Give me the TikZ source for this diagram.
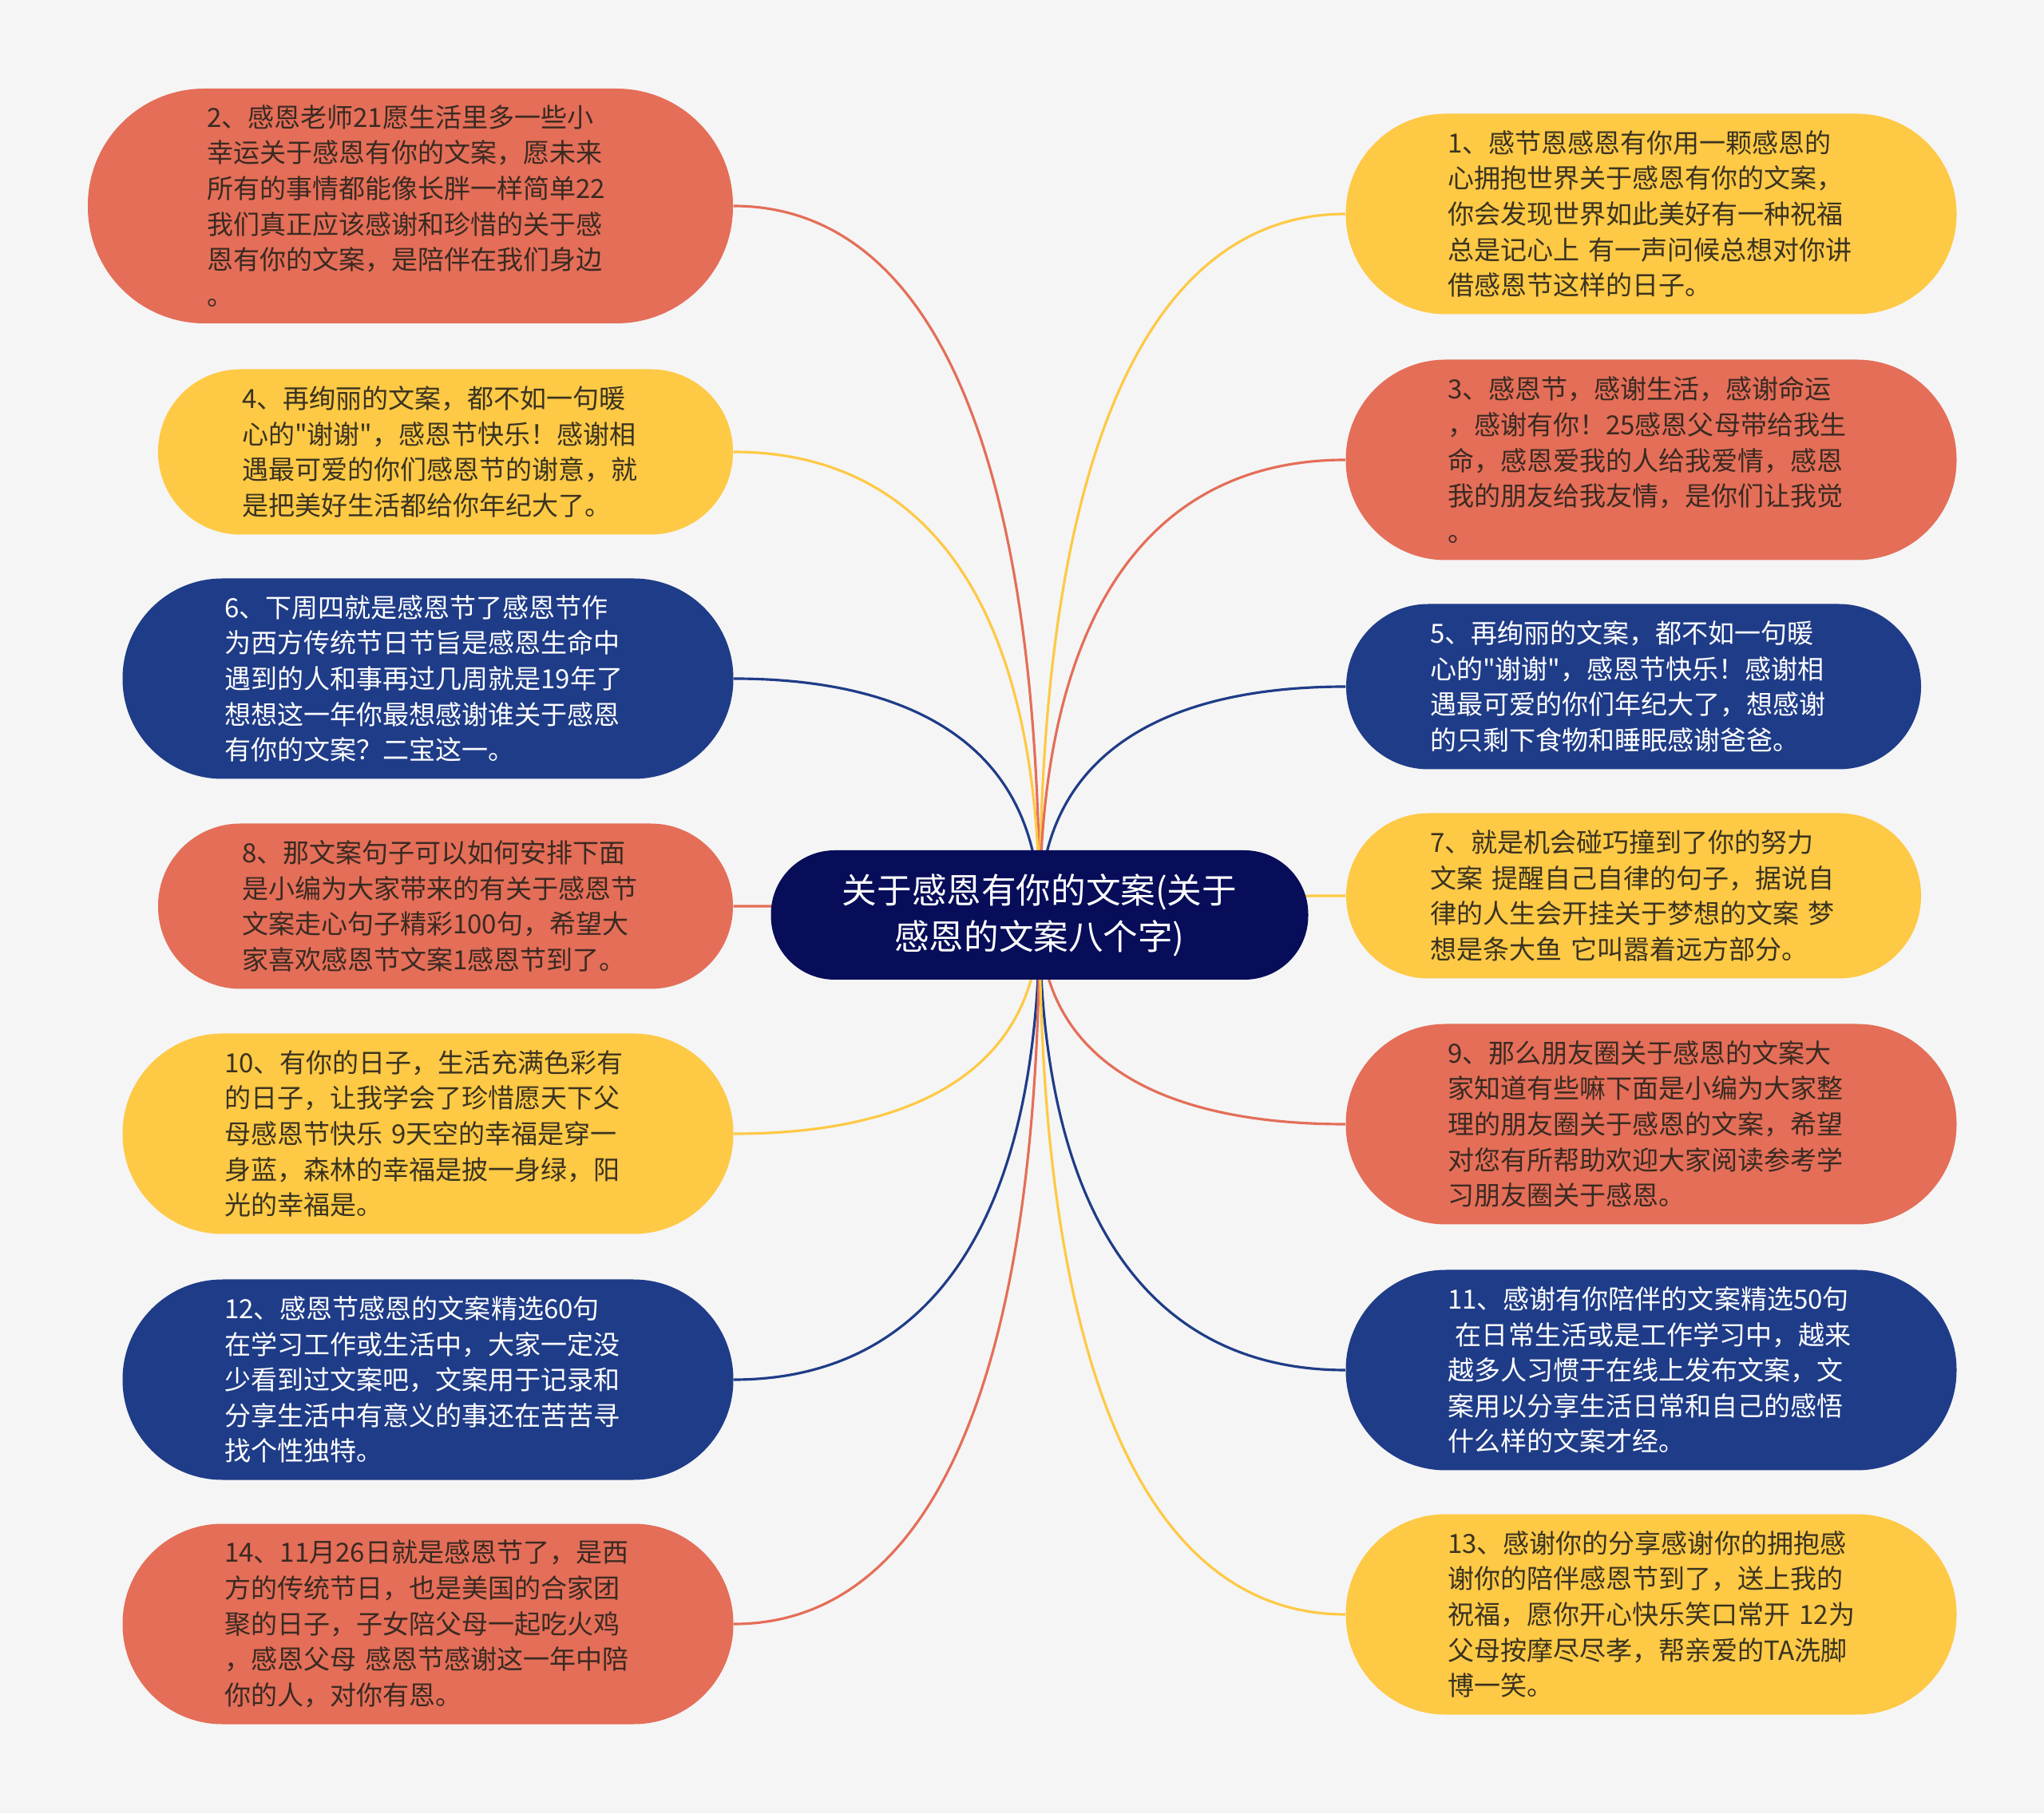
\documentclass[tikz,border=0pt]{standalone}
\usepackage{fontspec}
\usepackage{tikz}
\usetikzlibrary{calc, backgrounds}
\newfontfamily\cjk{Noto Sans CJK SC}
\newcommand\leaffont{\cjk\fontsize{9.4pt}{12.7pt}\selectfont}
\newcommand\hubfont{\cjk\fontsize{12.4pt}{16.5pt}\selectfont}
\definecolor{paper}{HTML}{F5F5F5}
\definecolor{coralfill}{HTML}{E46E58}
\definecolor{goldfill}{HTML}{FEC945}
\definecolor{bluefill}{HTML}{1F3C88}
\definecolor{navyfill}{HTML}{070D59}
\definecolor{coraltext}{HTML}{3A2A22}
\definecolor{goldtext}{HTML}{3A3320}

\begin{document}
\begin{tikzpicture}[
    leaf/.style={inner sep=0pt, text width=5.1cm, align=left, font=\leaffont},
    sixline/.style={leaf, minimum width=8.08cm, minimum height=2.94cm, rounded corners=1.46cm},
    fiveline/.style={leaf, minimum width=7.65cm, minimum height=2.51cm, rounded corners=1.25cm},
    fourline/.style={leaf, minimum width=7.2cm, minimum height=2.07cm, rounded corners=1.03cm},
    redleaf/.style={fill=coralfill, text=coraltext},
    goldleaf/.style={fill=goldfill, text=goldtext},
    blueleaf/.style={fill=bluefill, text=white},
    link/.style={line width=0.9pt},
  ]
  % Centre topic
  \node[fill=navyfill, text=white, font=\hubfont, align=center, inner sep=0pt,
        minimum width=6.73cm, minimum height=1.62cm, rounded corners=0.8cm] (hub) at (13.02, 11.25)
    {关于感恩有你的文案(关于\\感恩的文案八个字)};

  % Left column
  \node[sixline, redleaf] (n2) at (5.14, 20.13) {2、感恩老师21愿生活里多一些小\\幸运关于感恩有你的文案，愿未来\\所有的事情都能像长胖一样简单22\\我们真正应该感谢和珍惜的关于感\\恩有你的文案，是陪伴在我们身边\\。};
  \node[fourline, goldleaf] (n4) at (5.58, 17.05) {4、再绚丽的文案，都不如一句暖\\心的"谢谢"，感恩节快乐！感谢相\\遇最可爱的你们感恩节的谢意，就\\是把美好生活都给你年纪大了。};
  \node[fiveline, blueleaf] (n6) at (5.36, 14.21) {6、下周四就是感恩节了感恩节作\\为西方传统节日节旨是感恩生命中\\遇到的人和事再过几周就是19年了\\想想这一年你最想感谢谁关于感恩\\有你的文案？二宝这一。};
  \node[fourline, redleaf] (n8) at (5.58, 11.36) {8、那文案句子可以如何安排下面\\是小编为大家带来的有关于感恩节\\文案走心句子精彩100句，希望大\\家喜欢感恩节文案1感恩节到了。};
  \node[fiveline, goldleaf] (n10) at (5.36, 8.51) {10、有你的日子，生活充满色彩有\\的日子，让我学会了珍惜愿天下父\\母感恩节快乐~9天空的幸福是穿一\\身蓝，森林的幸福是披一身绿，阳\\光的幸福是。};
  \node[fiveline, blueleaf] (n12) at (5.36, 5.43) {12、感恩节感恩的文案精选60句\\在学习工作或生活中，大家一定没\\少看到过文案吧，文案用于记录和\\分享生活中有意义的事还在苦苦寻\\找个性独特。};
  \node[fiveline, redleaf] (n14) at (5.36, 2.37) {14、11月26日就是感恩节了，是西\\方的传统节日，也是美国的合家团\\聚的日子，子女陪父母一起吃火鸡\\，感恩父母~感恩节感谢这一年中陪\\你的人，对你有恩。};

  % Right column
  \node[fiveline, goldleaf] (n1) at (20.68, 20.03) {1、感节恩感恩有你用一颗感恩的\\心拥抱世界关于感恩有你的文案，\\你会发现世界如此美好有一种祝福\\总是记心上~有一声问候总想对你讲\\借感恩节这样的日子。};
  \node[fiveline, redleaf] (n3) at (20.68, 16.95) {3、感恩节，感谢生活，感谢命运\\，感谢有你！25感恩父母带给我生\\命，感恩爱我的人给我爱情，感恩\\我的朋友给我友情，是你们让我觉\\。};
  \node[fourline, blueleaf] (n5) at (20.46, 14.11) {5、再绚丽的文案，都不如一句暖\\心的"谢谢"，感恩节快乐！感谢相\\遇最可爱的你们年纪大了，想感谢\\的只剩下食物和睡眠感谢爸爸。};
  \node[fourline, goldleaf] (n7) at (20.46, 11.49) {7、就是机会碰巧撞到了你的努力\\文案~提醒自己自律的句子，据说自\\律的人生会开挂关于梦想的文案~梦\\想是条大鱼~它叫嚣着远方部分。};
  \node[fiveline, redleaf] (n9) at (20.68, 8.63) {9、那么朋友圈关于感恩的文案大\\家知道有些嘛下面是小编为大家整\\理的朋友圈关于感恩的文案，希望\\对您有所帮助欢迎大家阅读参考学\\习朋友圈关于感恩。};
  \node[fiveline, blueleaf] (n11) at (20.68, 5.55) {11、感谢有你陪伴的文案精选50句\\\hspace*{0.3em}在日常生活或是工作学习中，越来\\越多人习惯于在线上发布文案，文\\案用以分享生活日常和自己的感悟\\什么样的文案才经。};
  \node[fiveline, goldleaf] (n13) at (20.68, 2.49) {13、感谢你的分享感谢你的拥抱感\\谢你的陪伴感恩节到了，送上我的\\祝福，愿你开心快乐笑口常开~12为\\父母按摩尽尽孝，帮亲爱的TA洗脚\\博一笑。};

  % Paper and branches behind the nodes
  \begin{scope}[on background layer]
    \fill[paper] (0, 0) rectangle (25.6, 22.71);
    \foreach \leaf/\side/\col in {n2/east/coralfill, n4/east/goldfill, n6/east/bluefill,
        n8/east/coralfill, n10/east/goldfill, n12/east/bluefill, n14/east/coralfill,
        n1/west/goldfill, n3/west/coralfill, n5/west/bluefill, n7/west/goldfill,
        n9/west/coralfill, n11/west/bluefill, n13/west/goldfill}
      \draw[link, draw=\col] (hub.center)
        .. controls ($(hub.center)!.7!(hub.center |- \leaf.\side)$)
        and ($(\leaf.\side)!.6!(hub.center |- \leaf.\side)$) .. (\leaf.\side);
  \end{scope}
\end{tikzpicture}
\end{document}
